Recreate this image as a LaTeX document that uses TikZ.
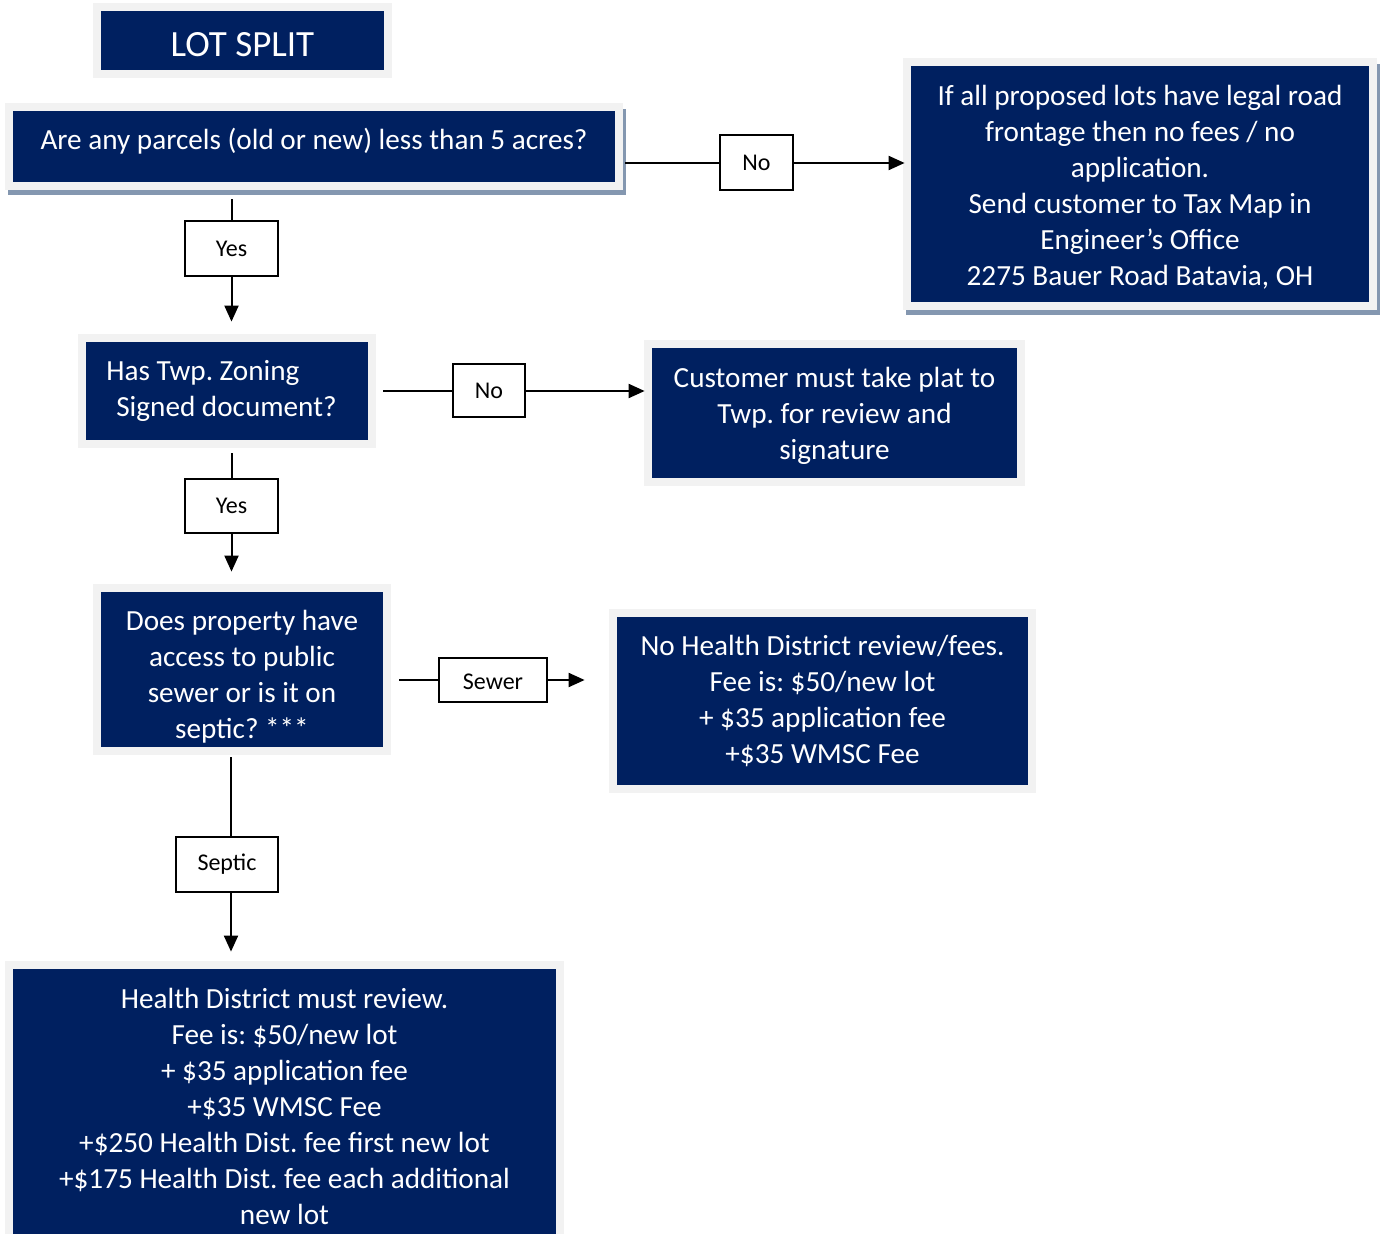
\documentclass[tikz,border=0pt]{standalone}
\usepackage{fontspec}
\setmainfont{Carlito}
\frenchspacing
\usepackage{tikz}
\usetikzlibrary{arrows.meta}
\usetikzlibrary{calc}
\usetikzlibrary{backgrounds}

\definecolor{navy}{HTML}{002060}
\definecolor{boxgrey}{HTML}{F2F2F2}
\definecolor{shadowgrey}{HTML}{8497B0}

\tikzset{
  navybox/.style={fill=navy, text=white, inner sep=2pt, align=center,
    font=\fontsize{14.6}{18}\selectfont,
    preaction={draw=boxgrey, line width=8pt}},
  labelbox/.style={draw=black, line width=1pt, fill=white, inner sep=1pt,
    font=\fontsize{12}{14}\selectfont},
  flow/.style={draw=black, line width=1pt},
  flowarrow/.style={flow, -{Triangle[length=8pt,width=7pt]}}
}

\begin{document}
\begin{tikzpicture}[x=0.5pt,y=-0.5pt]
  \useasboundingbox (0,0) rectangle (1385,1234);

  % boxes
  \node[navybox, minimum width=141.5pt, minimum height=29.5pt, text height=16.5pt, text depth=0pt,
        font=\fontsize{18.5}{22}\selectfont] (title) at (242.5,40.5) {LOT SPLIT};
  \node[navybox, minimum width=301pt, minimum height=35.5pt, text height=11pt, text depth=8pt] (q1) at (314,146.5)
        {Are any parcels (old or new) less than 5 acres?};
  \node[navybox, minimum width=229pt, minimum height=118pt] (r1) at (1140,184)
        {\rule{0pt}{13pt}If all proposed lots have legal road\\frontage then no fees / no\\application.\\Send customer to Tax Map in\\Engineer’s Office\\2275 Bauer Road Batavia, OH};
  \node[navybox, align=left, minimum width=141pt, minimum height=49pt] (q2) at (227,391)
        {Has Twp. Zoning\\\hspace*{5pt}Signed document?\hspace*{5.5pt}};
  \node[navybox, minimum width=182.5pt, minimum height=65pt] (r2) at (834.5,413)
        {\rule{0pt}{13pt}Customer must take plat to\\Twp. for review and\\signature};
  \node[navybox, minimum width=141pt, minimum height=77.5pt] (q3) at (242,669.5)
        {\rule{0pt}{17pt}Does property have\\access to public\\sewer or is it on\\septic? ***};
  \node[navybox, minimum width=205.5pt, minimum height=84pt] (r3) at (822.5,701)
        {No Health District review/fees.\\Fee is: \$50/new lot\\+ \$35 application fee\\+\$35 WMSC Fee};
  \node[navybox, minimum width=271.5pt, minimum height=140.5pt] (r4) at (284.5,1109.5)
        {Health District must review.\\Fee is: \$50/new lot\\+ \$35 application fee\\+\$35 WMSC Fee\\+\$250 Health Dist. fee first new lot\\+\$175 Health Dist. fee each additional\\new lot\rule[-3pt]{0pt}{3pt}};

  % shadows
  \begin{scope}[on background layer]
    \fill[shadowgrey] ($(q1.north west)+(-5,-2)$) rectangle ($(q1.south east)+(11,13)$);
    \fill[shadowgrey] ($(r1.north west)+(-5,-2)$) rectangle ($(r1.south east)+(11,13)$);
  \end{scope}

  % labels
  \node[labelbox, minimum width=36.5pt, minimum height=27.5pt] (no1) at (756.5,163) {No};
  \node[labelbox, minimum width=46.5pt, minimum height=27.5pt] (yes1) at (231.5,248.5) {Yes};
  \node[labelbox, minimum width=36pt, minimum height=26.5pt] (no2) at (489,391) {No};
  \node[labelbox, minimum width=46.5pt, minimum height=27pt] (yes2) at (231.5,506) {Yes};
  \node[labelbox, minimum width=54pt, minimum height=22pt, text height=9pt, text depth=0pt] (sewer) at (493,680) {Sewer};
  \node[labelbox, minimum width=51pt, minimum height=27.5pt] (septic) at (227,864.5) {Septic};
  \coordinate (septicline) at (231,864.5);

  % connectors
  \draw[flow, shorten <=5pt] (q1.east |- no1.west) -- (no1.west);
  \draw[flowarrow, shorten >=3pt] (no1.east) -- (r1.west |- no1.east);
  \draw[flow, shorten <=8.5pt] (q1.south -| yes1.north) -- (yes1.north);
  \draw[flowarrow, shorten >=10pt] (yes1.south) -- (yes1.south |- q2.north);
  \draw[flow, shorten <=7.5pt] (q2.east |- no2.west) -- (no2.west);
  \draw[flowarrow, shorten >=3.5pt] (no2.east) -- (r2.west |- no2.east);
  \draw[flow, shorten <=6.5pt] (q2.south -| yes2.north) -- (yes2.north);
  \draw[flowarrow, shorten >=10pt] (yes2.south) -- (yes2.south |- q3.north);
  \draw[flow, shorten <=8pt] (q3.east |- sewer.west) -- (sewer.west);
  \draw[flowarrow, shorten >=16pt] (sewer.east) -- (r3.west |- sewer.east);
  \draw[flow, shorten <=5pt] (septicline |- q3.south) -- (septicline |- septic.north);
  \draw[flowarrow, shorten >=8.5pt] (septicline |- septic.south) -- (septicline |- r4.north);
\end{tikzpicture}
\end{document}
